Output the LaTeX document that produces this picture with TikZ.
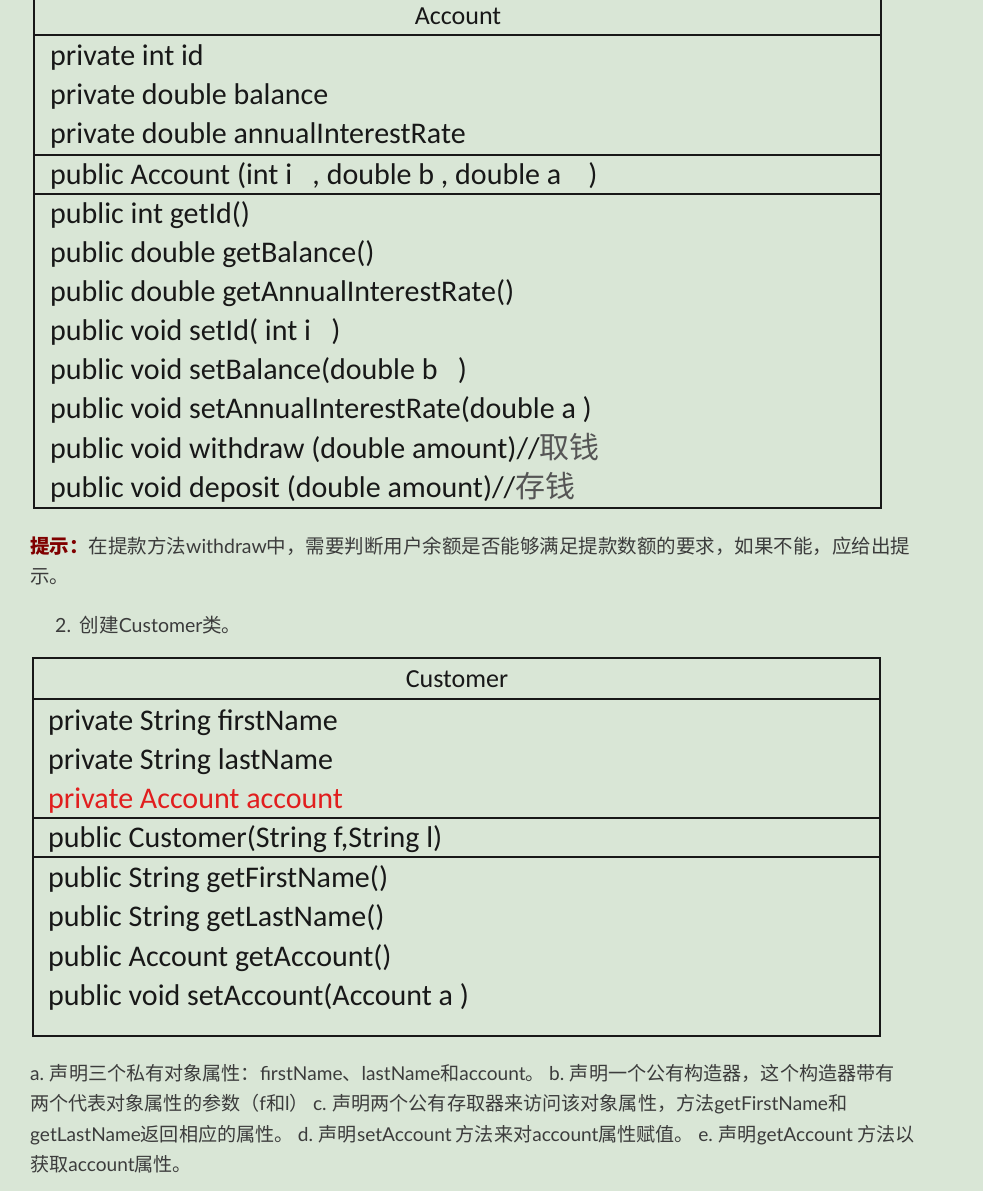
\documentclass[tikz,border=0pt]{standalone}
\usepackage{fontspec}
\setmainfont{Carlito}
\newfontfamily\cjk{Noto Sans CJK SC}
\newfontfamily\latfont{Lato}
\usetikzlibrary{positioning}
\definecolor{bgcol}{RGB}{217,230,214}
\definecolor{ink}{RGB}{24,24,24}
\definecolor{txtcol}{RGB}{60,60,60}
\definecolor{hintred}{RGB}{128,0,0}
\definecolor{fieldred}{RGB}{225,30,30}
\definecolor{notegray}{RGB}{85,85,85}
\tikzstyle{classline} = [line width=1.4pt, draw=ink]
\tikzstyle{classtitle} = [anchor=base, inner sep=0pt, font=\fontsize{26}{30}\selectfont, text=ink]
\tikzstyle{member}     = [anchor=base west, inner sep=0pt, font=\fontsize{30}{36}\selectfont, text=ink]
\tikzstyle{para}       = [anchor=base west, inner sep=0pt, font=\cjk\fontsize{19.5}{30}\selectfont, text=txtcol]
\tikzstyle{note}       = [para, font=\cjk\fontsize{19.1}{30}\selectfont]
\newcommand{\cnnote}[1]{{\cjk\color{notegray}#1}}
\newcommand{\lat}[1]{{\latfont #1}}

\begin{document}
\begin{tikzpicture}[x=1pt,y=-1pt]
        \fill[bgcol] (0,0) rectangle (983,1191);
        \useasboundingbox (0,0) rectangle (983,1191);
        \clip (0,0) rectangle (983,1191);

        % Account
        \draw[classline] (34,-6) rectangle (881,508);
        \draw[classline] (34,35) -- (881,35);
        \draw[classline] (34,155) -- (881,155);
        \draw[classline] (34,194) -- (881,194);

        \node[classtitle] (acctitle) at (458,24) {Account};
        \node[member] (accid)   at (50,65)  {private int id};
        \node[member] (accbal)  at (50,104) {private double balance};
        \node[member] (accrate) at (50,143) {private double annualInterestRate};
        \node[member] (accnew)  at (50,184) {public Account (int i\ \ \ , double b , double a\ \ \ \ )};
        \node[member] (getid)   at (50,223) {public int getId()};
        \node[member] (getbal)  at (50,262) {public double getBalance()};
        \node[member] (getrate) at (50,301) {public double getAnnualInterestRate()};
        \node[member] (setid)   at (50,340) {public void setId( int i\ \ \ )};
        \node[member] (setbal)  at (50,379) {public void setBalance(double b\ \ \ )};
        \node[member] (setrate) at (50,418) {public void setAnnualInterestRate(double a )};
        \node[member] (withdr)  at (50,458) {public void withdraw (double amount)//\cnnote{取钱}};
        \node[member] (depos)   at (50,497) {public void deposit (double amount)//\cnnote{存钱}};

        % hint and step 2
        \node[para] (hint1) at (30,553) {\textcolor{hintred}{\bfseries 提示：}在提款方法\lat{withdraw}中，需要判断用户余额是否能够满足提款数额的要求，如果不能，应给出提};
        \node[para] (hint2) at (30,583) {示。};
        \node[para] (step2) at (55,632) {\lat{2.}\ \ 创建\lat{Customer}类。};

        % Customer
        \draw[classline] (33,658) rectangle (880,1036);
        \draw[classline] (33,699) -- (880,699);
        \draw[classline] (33,818) -- (880,818);
        \draw[classline] (33,857) -- (880,857);

        \node[classtitle] (custtitle) at (457,687) {Customer};
        \node[member] (first)   at (48,730)  {private String firstName};
        \node[member] (last)    at (48,769)  {private String lastName};
        \node[member, text=fieldred] (acct) at (48,808) {private Account account};
        \node[member] (custnew) at (48,847)  {public Customer(String f,String l)};
        \node[member] (getfirst) at (48,887) {public String getFirstName()};
        \node[member] (getlast) at (48,926)  {public String getLastName()};
        \node[member] (getacct) at (48,966)  {public Account getAccount()};
        \node[member] (setacct) at (48,1005) {public void setAccount(Account a )};

        % notes a-e
        \node[note] (note1) at (30,1080) {\lat{a.} 声明三个私有对象属性：\lat{firstName}、\lat{lastName}和\lat{account}。 \lat{b.} 声明一个公有构造器，这个构造器带有};
        \node[note] (note2) at (30,1110) {两个代表对象属性的参数（\lat{f}和\lat{l}） \lat{c.} 声明两个公有存取器来访问该对象属性，方法\lat{getFirstName}和};
        \node[note] (note3) at (30,1141) {\lat{getLastName}返回相应的属性。 \lat{d.} 声明\lat{setAccount} 方法来对\lat{account}属性赋值。 \lat{e.} 声明\lat{getAccount} 方法以};
        \node[note] (note4) at (30,1171) {获取\lat{account}属性。};
\end{tikzpicture}
\end{document}
